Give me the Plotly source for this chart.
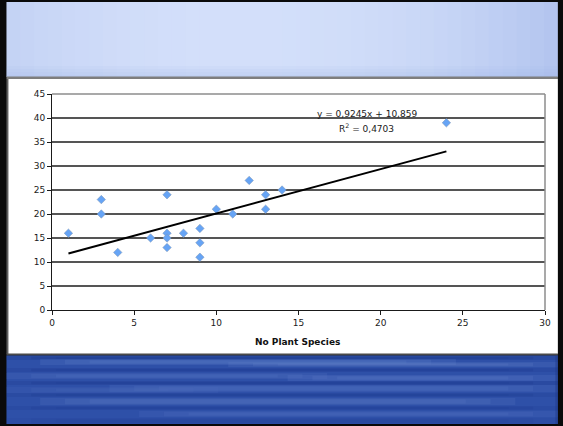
import plotly.graph_objects as go

# ---- data ----
plant_species = [1, 3, 3, 4, 6, 7, 7, 7, 7, 8, 9, 9, 9, 10, 11, 12, 13, 13, 14, 24]
values = [16, 23, 20, 12, 15, 24, 16, 15, 13, 16, 17, 14, 11, 21, 20, 27, 24, 21, 25, 39]
trend_slope = 0.9245
trend_intercept = 10.859
trend_x = [min(plant_species), max(plant_species)]
x_ticks = [0, 5, 10, 15, 20, 25, 30]
y_ticks = [0, 5, 10, 15, 20, 25, 30, 35, 40, 45]
x_title = "No Plant Species"
eq_text = "y = 0,9245x + 10,859"
r2_text = "R<sup>2</sup> = 0,4703"

# ---- layout geometry (pixels) ----
W, H = 563, 426
L, R, T, B = 52, 13, 94, 116
PW, PH = W - L - R, H - T - B


def px(x):
    return (x - L) / PW


def py(y):
    return (H - B - y) / PH


FONT = "DejaVu Sans, Verdana, sans-serif"

fig = go.Figure()
fig.add_trace(go.Scatter(
    x=plant_species, y=values, mode="markers",
    marker=dict(symbol="diamond", size=6.5, color="#66A4F5",
                line=dict(width=0.5, color="#7C93B0")),
    showlegend=False, hoverinfo="x+y"))
fig.add_trace(go.Scatter(
    x=trend_x, y=[trend_slope * v + trend_intercept for v in trend_x],
    mode="lines", line=dict(color="black", width=2),
    showlegend=False, hoverinfo="skip"))

shapes = []


def rect(x0, y0, x1, y1, color, opacity=1.0):
    shapes.append(dict(type="rect", xref="paper", yref="paper",
                       x0=px(x0), x1=px(x1), y0=py(y1), y1=py(y0),
                       fillcolor=color, opacity=opacity, layer="below",
                       line=dict(width=0)))


def lerp(c1, c2, t):
    a = [int(c1[i:i + 2], 16) for i in (1, 3, 5)]
    b = [int(c2[i:i + 2], 16) for i in (1, 3, 5)]
    return "rgb(%d,%d,%d)" % tuple(round(a[k] + (b[k] - a[k]) * t) for k in range(3))


# top light-blue band with soft horizontal gradient
x0, x1 = 6, 563
n = 40
step = (x1 - x0) / n
for i in range(n):
    t = (i + 0.5) / n
    d = min(abs(t - 0.42) / 0.58, 1)
    col = lerp("#D3DFFA", "#B2C4EE", d ** 2.2)
    rect(x0 + step * i, 2, min(x1, x0 + step * (i + 1) + 3), 77, col)
for i in range(4):
    rect(6, 66 + i * 3, 563, 77, "#9AAEE0", 0.08)
rect(6, 76.5, 563, 79, "#7E7E7E")

# white chart region
rect(7, 79, 563, 354, "#FFFFFF")
rect(6, 79, 8, 354, "#5E5E5E")
rect(6, 353.5, 563, 355.5, "#4A4A4A")

# bottom dark-blue band with soft streaks
rect(6, 355.5, 563, 424, "#2E50A8")
streaks = [
    (6, 563, 356, 360, "#1B388B", 0.45),
    (40, 460, 359, 365, "#6282CB", 0.38),
    (230, 563, 362, 367, "#6A88CE", 0.32),
    (6, 563, 368, 372, "#1A368A", 0.35),
    (6, 330, 373, 379, "#5878C4", 0.35),
    (290, 563, 375, 381, "#5E7EC8", 0.38),
    (6, 563, 381, 385, "#183585", 0.35),
    (110, 563, 385, 392, "#5A7AC6", 0.35),
    (6, 220, 387, 393, "#5070BE", 0.30),
    (6, 563, 393, 397, "#1C3A8E", 0.35),
    (40, 520, 398, 405, "#5D7DC7", 0.35),
    (6, 563, 406, 410, "#1A388C", 0.32),
    (140, 563, 411, 417, "#5879C5", 0.32),
    (6, 563, 418, 424, "#23429A", 0.30),
]
for (sx0, sx1, sy0, sy1, c, op) in streaks:
    for k in range(3):
        rect(sx0 + 25 * k, sy0 + 0.8 * k, sx1 - 25 * k, sy1 - 0.8 * k, c, op * 0.55)
rect(560.5, 355.5, 563, 424, "#1F3A8A", 0.5)

# top / right border of plot area (grey)
shapes.append(dict(type="line", xref="paper", yref="paper", x0=0, x1=1, y0=1, y1=1,
                   line=dict(color="#8C8C8C", width=1.5), layer="above"))
shapes.append(dict(type="line", xref="paper", yref="paper", x0=1, x1=1, y0=0, y1=1,
                   line=dict(color="#8C8C8C", width=1.5), layer="above"))

fig.update_layout(
    width=W, height=H,
    margin=dict(l=L, r=R, t=T, b=B, pad=0),
    paper_bgcolor="#0A0A0A",
    plot_bgcolor="#C9C9C9",
    shapes=shapes,
    showlegend=False,
    font=dict(family=FONT, size=9, color="#1A1A1A"),
    xaxis=dict(range=[0, 30], tickvals=x_ticks, showgrid=False, zeroline=False,
               showline=True, linecolor="#1A1A1A", linewidth=1,
               ticks="outside", ticklen=4, tickcolor="#1A1A1A",
               tickfont=dict(family=FONT, size=9, color="#1A1A1A")),
    yaxis=dict(range=[0, 45], tickvals=y_ticks, showgrid=True,
               gridcolor="#555555", gridwidth=1.8, zeroline=False,
               showline=True, linecolor="#1A1A1A", linewidth=1,
               ticks="outside", ticklen=4, tickcolor="#1A1A1A",
               tickfont=dict(family=FONT, size=9, color="#1A1A1A")),
    annotations=[
        dict(text="<b>" + x_title + "</b>", xref="paper", yref="paper",
             x=px(300), y=py(342), xanchor="center", yanchor="middle", showarrow=False,
             font=dict(family=FONT, size=9, color="#111111")),
        dict(text=eq_text, xref="paper", yref="paper",
             x=px(370), y=py(113.5), xanchor="center", yanchor="middle", showarrow=False,
             font=dict(family=FONT, size=9, color="#1A1A1A")),
        dict(text=r2_text, xref="paper", yref="paper",
             x=px(370), y=py(127.5), xanchor="center", yanchor="middle", showarrow=False,
             font=dict(family=FONT, size=9, color="#1A1A1A")),
    ],
)

fig.write_html("out.html")
